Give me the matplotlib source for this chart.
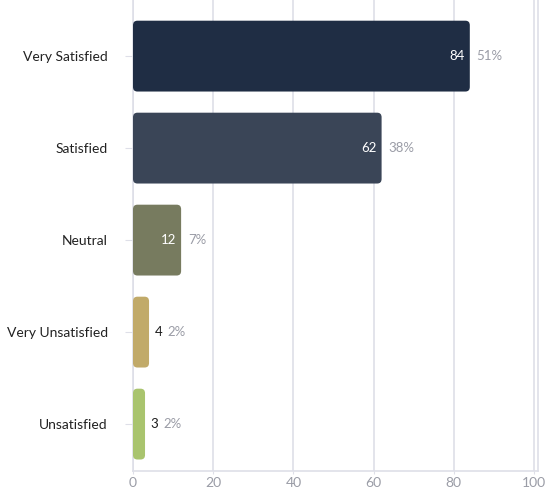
import matplotlib

matplotlib.use("Agg")
import matplotlib.pyplot as plt
from matplotlib.patches import FancyBboxPatch

plt.rcParams["font.family"] = ["Lato", "DejaVu Sans"]

categories = ["Very Satisfied", "Satisfied", "Neutral", "Very Unsatisfied", "Unsatisfied"]
counts = [84, 62, 12, 4, 3]
percents = ["51%", "38%", "7%", "2%", "2%"]
colors = ["#1f2d44", "#3a4557", "#777b5f", "#c1aa69", "#a9c46e"]
xticks = [0, 20, 40, 60, 80, 100]

GRID = "#dedfe8"

fig = plt.figure(figsize=(5.48, 4.93), dpi=100)
ax = fig.add_axes([0.2427, 0.0446, 0.739, 0.9554])

bar_h = 0.77
for i, (cat, n, pct, c) in enumerate(zip(categories, counts, percents, colors)):
    # rounded bar ends; aspect compensates for data units in x vs y
    box = FancyBboxPatch((0, i - bar_h / 2), n, bar_h,
                         boxstyle="round,pad=0,rounding_size=1.1",
                         mutation_aspect=0.045, fc=c, ec="none", zorder=3)
    ax.add_patch(box)
    if n >= 10:
        ax.text(n - 1.2, i, str(n), ha="right", va="center", color="white",
                fontsize=9.5, zorder=4)
        ax.text(n + 1.7, i, pct, ha="left", va="center", color="#9a9ca6",
                fontsize=9.5, zorder=4)
    else:
        ax.text(n + 1.4, i, str(n), ha="left", va="center", color="#1c1c1c",
                fontsize=9.5, zorder=4)
        ax.text(n + 4.6, i, pct, ha="left", va="center", color="#9a9ca6",
                fontsize=9.5, zorder=4)

ax.set_xlim(0, 101)
ax.set_ylim(4.51, -0.61)
ax.set_xticks(xticks)
ax.set_xticklabels([str(t) for t in xticks])
ax.set_yticks(range(len(categories)))
ax.set_yticklabels(categories)

ax.grid(axis="x", color=GRID, lw=1.2, zorder=0)
ax.set_axisbelow(True)
ax.spines["top"].set_visible(False)
for side in ["left", "bottom", "right"]:
    ax.spines[side].set_color(GRID)
    ax.spines[side].set_linewidth(1.2)

ax.tick_params(axis="y", length=6, color=GRID, pad=12, labelsize=10, labelcolor="#222222")
ax.tick_params(axis="x", length=2, color=GRID, pad=2, labelsize=10, labelcolor="#9a9ca6")

fig.savefig("out.png", dpi=100)
